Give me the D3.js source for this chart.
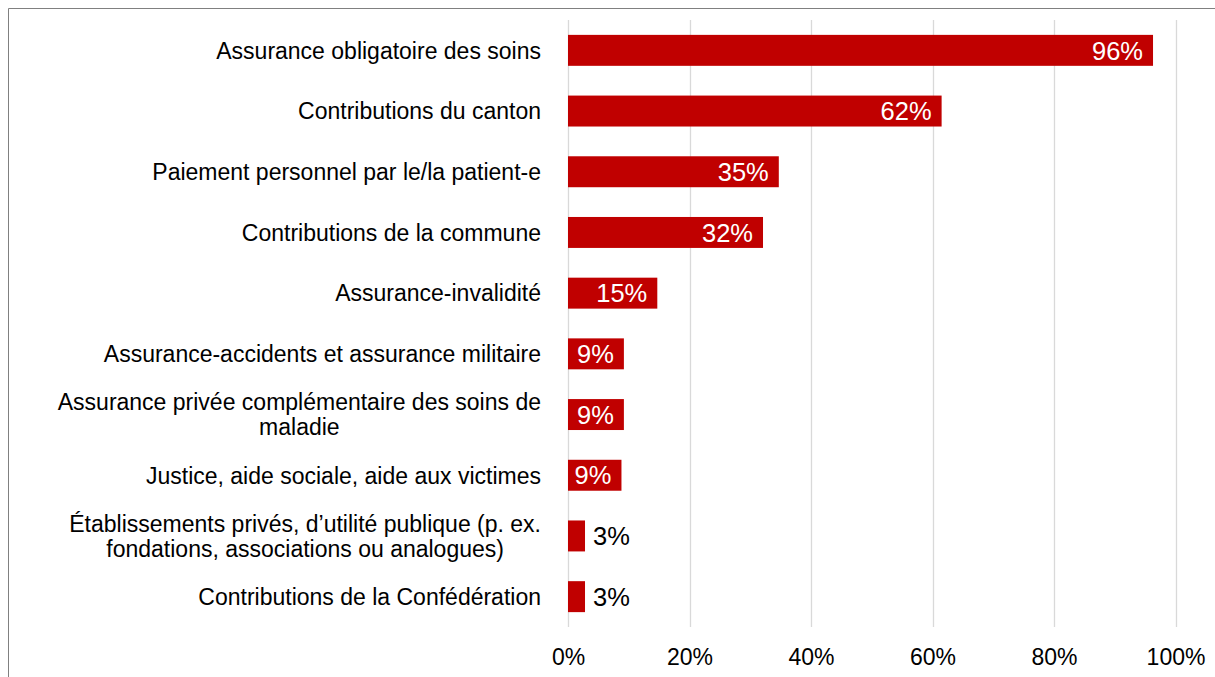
<!DOCTYPE html>
<html lang="fr">
<head>
<meta charset="UTF-8">
<title>Financement</title>
<script src="https://cdn.jsdelivr.net/npm/d3@7/dist/d3.min.js"></script>
<style>
  body { margin: 0; background: #fff; }
  text { font-family: "Liberation Sans", Arial, sans-serif; }
</style>
</head>
<body>
<script>
// categories, top to bottom (\n = line break in the label)
var categories = [
  "Assurance obligatoire des soins",
  "Contributions du canton",
  "Paiement personnel par le/la patient-e",
  "Contributions de la commune",
  "Assurance-invalidité",
  "Assurance-accidents et assurance militaire",
  "Assurance privée complémentaire des soins de\nmaladie",
  "Justice, aide sociale, aide aux victimes",
  "Établissements privés, d’utilité publique (p. ex.\nfondations, associations ou analogues)",
  "Contributions de la Confédération"
];
var values = [96.3, 61.5, 34.7, 32.1, 14.7, 9.2, 9.2, 8.8, 2.8, 2.8];
var valueLabels = ["96%", "62%", "35%", "32%", "15%", "9%", "9%", "9%", "3%", "3%"];
var xTicks = [0, 20, 40, 60, 80, 100];

var width = 1215, height = 677;
var margin = { top: 20, right: 40, bottom: 50, left: 568 };

var svg = d3.select("body").append("svg").attr("width", width).attr("height", height);

// outer frame
svg.append("path")
  .attr("d", "M8.5," + height + "V8.5H" + width)
  .attr("fill", "none").attr("stroke", "#808080").attr("stroke-width", 1);

var x = d3.scaleLinear().domain([0, 100]).range([margin.left, 1175.5]);
var y = d3.scaleBand().domain(categories).range([margin.top, 627]).paddingInner(0.49).paddingOuter(0.245);

// gridlines
svg.append("g").selectAll("line").data(xTicks).enter().append("line")
  .attr("x1", function (d) { return Math.round(x(d)) + 0.5; })
  .attr("x2", function (d) { return Math.round(x(d)) + 0.5; })
  .attr("y1", margin.top).attr("y2", 627)
  .attr("stroke", "#d9d9d9").attr("stroke-width", 1.3);

// x axis labels
var xAxis = d3.axisBottom(x).tickValues(xTicks).tickSize(0).tickPadding(0)
  .tickFormat(function (d) { return d + "%"; });
var gx = svg.append("g").attr("transform", "translate(0,657)").call(xAxis);
gx.select(".domain").remove();
gx.selectAll("text").attr("font-size", 23).attr("fill", "#000").attr("dy", "0.36em")
  .style("font-family", "'Liberation Sans', Arial, sans-serif");

// bars
svg.append("g").selectAll("rect").data(values).enter().append("rect")
  .attr("x", x(0))
  .attr("y", function (d, i) { return y(categories[i]); })
  .attr("width", function (d) { return x(d) - x(0); })
  .attr("height", y.bandwidth())
  .attr("fill", "#c00000");

// value labels
svg.append("g").selectAll("text").data(values).enter().append("text")
  .attr("x", function (d) { return d > 5 ? x(d) - 10 : x(d) + 8; })
  .attr("y", function (d, i) { return y(categories[i]) + y.bandwidth() / 2; })
  .attr("dy", "0.36em")
  .attr("text-anchor", function (d) { return d > 5 ? "end" : "start"; })
  .attr("fill", function (d) { return d > 5 ? "#fff" : "#000"; })
  .attr("font-size", 25.5)
  .text(function (d, i) { return valueLabels[i]; });

// category labels: block right-aligned, wrapped lines centred within the block
var lineH = 25;
var labelRight = 541;
svg.append("g").selectAll("text").data(categories).enter().append("text")
  .attr("font-size", 23)
  .attr("fill", "#000")
  .each(function (d) {
    var lines = d.split("\n");
    var cy = y(d) + y.bandwidth() / 2;
    var t = d3.select(this);
    var spans = lines.map(function (l, k) {
      return t.append("tspan")
        .attr("y", cy + (k - (lines.length - 1) / 2) * lineH)
        .attr("dy", "0.36em")
        .text(l);
    });
    if (lines.length === 1) {
      t.attr("text-anchor", "end");
      spans[0].attr("x", labelRight);
    } else {
      var maxW = d3.max(spans, function (s) { return s.node().getComputedTextLength(); });
      t.attr("text-anchor", "middle");
      spans.forEach(function (s) { s.attr("x", labelRight - maxW / 2); });
    }
  });
</script>
</body>
</html>
